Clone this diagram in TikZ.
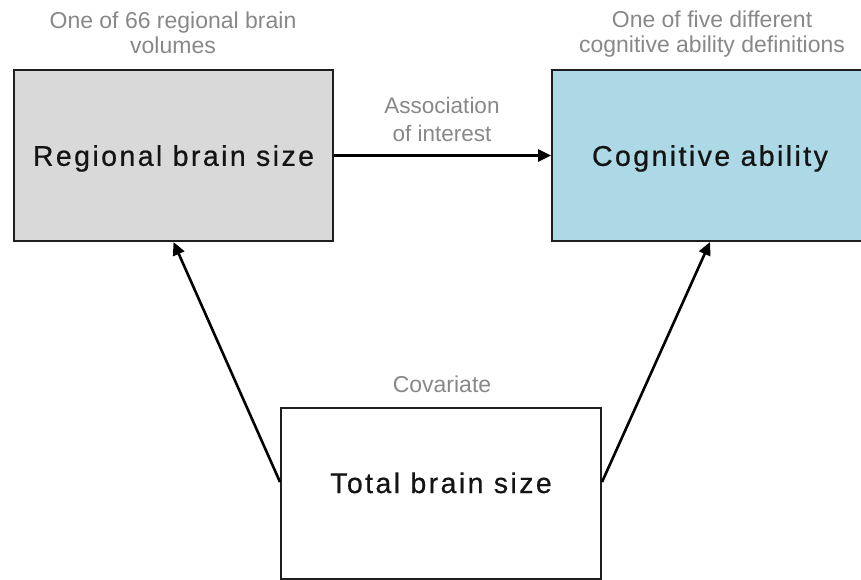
\documentclass[tikz,border=0pt]{standalone}
\usepackage{fontspec}
\setmainfont{Liberation Sans}
\newfontfamily\boxfont[LetterSpace=8.5,FakeBold=0.6]{Liberation Sans}
\usetikzlibrary{arrows.meta}
\definecolor{boxgray}{RGB}{217,217,217}
\definecolor{boxblue}{RGB}{173,216,230}
\definecolor{notegray}{RGB}{136,136,136}
\definecolor{edgecol}{RGB}{30,30,30}
\begin{document}
\begin{tikzpicture}[x=1pt,y=-1pt,
  box/.style={draw=edgecol, line width=2pt, inner sep=0pt, text depth=0pt,
    font=\boxfont\fontsize{28.5}{30}\selectfont, text=black!92},
  boxtext/.style={inner sep=0pt, anchor=base, font=\boxfont\fontsize{28.5}{30}\selectfont, text=black!92},
  note/.style={text=notegray, font=\fontsize{23}{25}\selectfont, align=center, inner sep=0pt},
  link/.style={draw=black, line width=2.6pt, -{Triangle[length=13pt,width=12pt]}}]
\useasboundingbox (0,0) rectangle (861,579);
\node[box, fill=boxgray, minimum width=319pt, minimum height=171pt] (rbs) at (173.5,155.5) {Regional brain size};
\node[box, fill=boxblue, minimum width=316pt, minimum height=171pt] (cog) at (710,155.5) {Cognitive ability};
\node[box, fill=white, minimum width=320pt, minimum height=171pt] (tbs) at (441,493.5) {};
\node[boxtext] (tbstext) at (441,493) {Total brain size};
\draw[link] (rbs.east) -- (cog.west);
\draw[link] ([yshift=11.5pt]tbs.west) -- (rbs.south);
\draw[link] ([yshift=11.5pt]tbs.east) -- (cog.south);
\node[note, anchor=base] (n1) at (173,53.5) {One of 66 regional brain\\volumes};
\node[note, anchor=base] (n2) at (712,52) {One of five different\\cognitive ability definitions};
\node[note, anchor=base, font=\fontsize{22.5}{27.5}\selectfont] (n3) at (442,141) {Association\\of interest};
\node[note, anchor=base] (n4) at (442,392) {Covariate};
\end{tikzpicture}
\end{document}
